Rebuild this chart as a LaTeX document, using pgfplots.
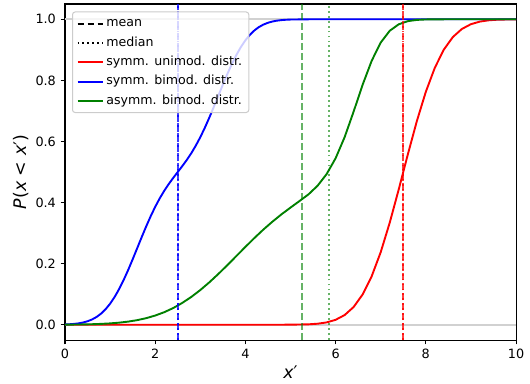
\documentclass[border=0pt]{standalone}
\usepackage{fontspec}
\setmainfont{DejaVu Sans}
\usepackage{pgfplots}
\pgfplotsset{compat=1.18}
\definecolor{mplgreen}{rgb}{0,0.5,0}
\definecolor{mplred}{rgb}{1,0,0}
\definecolor{mplblue}{rgb}{0,0,1}
\begin{document}
\begin{tikzpicture}
\path[use as bounding box] (-48.75pt,-32.25pt) rectangle (348.75pt,255pt);
\begin{axis}[
  at={(0,0)}, anchor=south west,
  scale only axis, width=338.25pt, height=252pt,
  xmin=0, xmax=10, ymin=-0.05, ymax=1.05,
  xtick={0,2,4,6,8,10},
  ytick={0,0.2,0.4,0.6,0.8,1.0},
  yticklabel style={/pgf/number format/.cd, fixed, fixed zerofill, precision=1},
  /pgf/number format/assume math mode=true,
  tick align=outside, tick pos=left, major tick length=3.3pt,
  every tick/.style={black, line width=0.76pt},
  axis line style={line width=0.76pt},
  ticklabel style={font=\fontsize{9.6}{11}\selectfont},
  xlabel={\fontsize{13}{15}\selectfont\textit{x}′},
  ylabel={\fontsize{13}{15}\selectfont\textit{P}(\textit{x} < \textit{x}′)},
  every axis x label/.style={at={(axis description cs:0.5,-0.0952)}, anchor=center},
  every axis y label/.style={at={(axis description cs:-0.098,0.5)}, rotate=90, anchor=center},
  legend cell align=left,
  legend image code/.code={\draw[#1] (0pt,0pt) -- (18.9pt,0pt);},
  legend style={at={(0,1)}, anchor=north west, xshift=5.25pt, yshift=-5.6pt,
    draw=black!20, line width=0.76pt, rounded corners=2pt, fill=white, fill opacity=0.8, text opacity=1,
    font=\fontsize{9.45}{11}\selectfont, row sep=5.1pt, inner xsep=3pt, inner ysep=4pt,
    nodes={inner ysep=0pt, text height=7.2pt, text depth=2.2pt}},
]
\addlegendimage{draw=black, line width=1.42pt, dash pattern=on 5.2pt off 2.3pt}
\addlegendentry{mean}
\addlegendimage{draw=black, line width=1.42pt, dash pattern=on 1.42pt off 2.3pt}
\addlegendentry{median}
\addlegendimage{draw=mplred, line width=1.5pt, solid}
\addlegendentry{symm. unimod. distr.}
\addlegendimage{draw=mplblue, line width=1.42pt, solid}
\addlegendentry{symm. bimod. distr.}
\addlegendimage{draw=mplgreen, line width=1.42pt, solid}
\addlegendentry{asymm. bimod. distr.}

% light grey reference lines
\addplot[forget plot, black!18, line width=1.5pt] coordinates {(0,0) (10,0)};
\addplot[forget plot, black!18, line width=1.5pt] coordinates {(0,1) (10,1)};

% symmetric unimodal
\addplot[forget plot, mplred, line width=1.42pt, line join=round] coordinates {
(0,0) (4.6,0.00001) (5.0,0.00018) (5.4,0.00135) (5.6,0.0033) (5.8,0.00758) (6.0,0.0161)
(6.2,0.0317) (6.4,0.0581) (6.6,0.0993) (6.8,0.1587) (7.0,0.2375) (7.2,0.3341)
(7.4,0.4432) (7.5,0.5) (7.6,0.5568) (7.8,0.6659) (8.0,0.7625) (8.2,0.8413)
(8.4,0.9007) (8.6,0.9419) (8.8,0.9683) (9.0,0.9839) (9.2,0.99242) (9.4,0.9967)
(9.6,0.99865) (10.0,0.99982)};

% symmetric bimodal
\addplot[forget plot, mplblue, line width=1.42pt, line join=round] coordinates {
(0,0.0009) (0.1,0.0016) (0.2,0.0027) (0.3,0.0045) (0.4,0.0073) (0.5,0.0114)
(0.6,0.0173) (0.7,0.0254) (0.8,0.0365) (0.9,0.0508) (1.0,0.0688) (1.1,0.0908)
(1.2,0.1168) (1.3,0.1464) (1.4,0.1790) (1.5,0.2141) (1.6,0.2503) (1.7,0.2866)
(1.8,0.3219) (1.9,0.3553) (2.0,0.3860) (2.1,0.4137) (2.2,0.4385) (2.3,0.4606)
(2.4,0.4808) (2.5,0.5000) (2.6,0.5192) (2.7,0.5394) (2.8,0.5615) (2.9,0.5863)
(3.0,0.6140) (3.1,0.6447) (3.2,0.6781) (3.3,0.7134) (3.4,0.7497) (3.5,0.7859)
(3.6,0.8210) (3.7,0.8536) (3.8,0.8832) (3.9,0.9092) (4.0,0.9312) (4.1,0.9492)
(4.2,0.9635) (4.3,0.9746) (4.4,0.9827) (4.5,0.9886) (4.6,0.9927) (4.7,0.9955)
(4.8,0.9973) (4.9,0.9984) (5.0,0.9991) (5.4,0.9999) (6.0,1.0) (10,1.0)};

% asymmetric bimodal
\addplot[forget plot, mplgreen, line width=1.42pt, line join=round] coordinates {
(0,0.0003) (0.2,0.0006) (0.4,0.0010) (0.6,0.0017) (0.8,0.0028) (1.0,0.0044)
(1.2,0.0068) (1.4,0.0102) (1.6,0.0150) (1.8,0.0215) (2.0,0.0301) (2.2,0.0410)
(2.4,0.0547) (2.6,0.0714) (2.8,0.0910) (3.0,0.1136) (3.2,0.1388) (3.4,0.1662)
(3.6,0.1952) (3.8,0.2250) (4.0,0.2548) (4.2,0.2840) (4.4,0.3118) (4.6,0.3375)
(4.8,0.3615) (5.0,0.3835) (5.2,0.4050) (5.4,0.4270) (5.6,0.4550) (5.8,0.4930)
(6.0,0.5450) (6.2,0.6140) (6.4,0.6980) (6.6,0.7860) (6.8,0.8641) (7.0,0.9237)
(7.2,0.9623) (7.4,0.9836) (7.6,0.9938) (7.8,0.9979) (8.0,0.9994) (8.4,0.9999)
(10,1.0)};

% mean (dashed) and median (dotted) lines
\addplot[forget plot, mplblue, opacity=0.75, line width=1.42pt, dash pattern=on 5.2pt off 2.3pt] coordinates {(2.5,-0.05) (2.5,1.05)};
\addplot[forget plot, mplblue, opacity=0.75, line width=1.42pt, dash pattern=on 1.42pt off 2.3pt] coordinates {(2.5,-0.05) (2.5,1.05)};
\addplot[forget plot, mplgreen, opacity=0.6, line width=1.42pt, dash pattern=on 5.2pt off 2.3pt] coordinates {(5.25,-0.05) (5.25,1.05)};
\addplot[forget plot, mplgreen, opacity=0.6, line width=1.42pt, dash pattern=on 1.42pt off 2.3pt] coordinates {(5.85,-0.05) (5.85,1.05)};
\addplot[forget plot, mplred, opacity=0.75, line width=1.42pt, dash pattern=on 5.2pt off 2.3pt] coordinates {(7.5,-0.05) (7.5,1.05)};
\addplot[forget plot, mplred, opacity=0.75, line width=1.42pt, dash pattern=on 1.42pt off 2.3pt] coordinates {(7.5,-0.05) (7.5,1.05)};
\end{axis}
\end{tikzpicture}
\end{document}
